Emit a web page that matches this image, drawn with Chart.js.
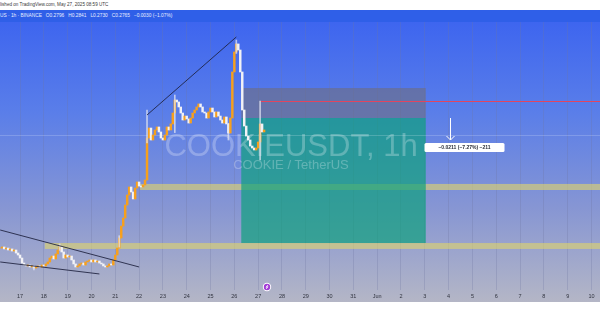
<!DOCTYPE html>
<html>
<head>
<meta charset="utf-8">
<script src="https://cdn.jsdelivr.net/npm/chart.js@4.4.1/dist/chart.umd.min.js"></script>
<style>
  html, body { margin: 0; padding: 0; background: #fff; }
  #wrap { position: relative; width: 600px; height: 315px; overflow: hidden; font-family: 'Liberation Sans', Arial, sans-serif; }
  #pub { position: absolute; top: 0; left: 0; height: 10px; line-height: 10px; font-size: 4.6px; color: #3a3a3a; white-space: nowrap; }
  #plot { position: absolute; top: 10px; left: 0; width: 600px; height: 292px;
    background: linear-gradient(to bottom, #3a62f0 0%, #5a7ee9 35%, #8796d3 68%, #b4b6c6 100%); }
  #legend { position: absolute; top: 10px; left: 0; width: 600px; height: 12px; line-height: 12px; background: #2f5fe8;
    color: #e8eeff; font-size: 4.8px; white-space: nowrap; }
  #legend span { margin-left: 4px; }
  canvas { position: absolute; top: 0; left: 0; }
</style>
</head>
<body>
<div id="wrap">
  <div id="pub">lished on TradingView.com, May 27, 2025 08:59 UTC</div>
  <div id="plot"><canvas id="chartData" width="600" height="292"></canvas></div>
  <div id="legend">US · 1h · BINANCE<span>O0.2796</span><span>H0.2841</span><span>L0.2730</span><span>C0.2765</span><span>−0.0030 (−1.07%)</span></div>
</div>
<script>
// x axis is hours since May 17 00:00 UTC
const dayLabels = ['17','18','19','20','21','22','23','24','25','26','27','28','29','30','31','Jun','2','3','4','5','6','7','8','9','10'];
const startHour = -20;
const stepHours = 2;

// closing prices, one every 2 hours
const closes = [
  0.1632,0.1642,0.1623,0.1632,0.1613,0.1623,0.1603,0.1613,0.1584,0.1565,
  0.1536,0.1488,0.1469,0.1460,0.1469,0.1450,0.1460,0.1440,0.1450,0.1460,
  0.1450,0.1469,0.1460,0.1479,0.1498,0.1536,0.1555,0.1527,0.1575,0.1613,
  0.1642,0.1594,0.1536,0.1565,0.1546,0.1555,0.1517,0.1479,0.1450,0.1460,
  0.1479,0.1488,0.1469,0.1498,0.1507,0.1517,0.1498,0.1517,0.1498,0.1507,
  0.1488,0.1479,0.1460,0.1450,0.1460,0.1479,0.1469,0.1517,0.1565,0.1632,
  0.1728,0.1843,0.1920,0.2045,0.2141,0.2218,0.2170,0.2103,0.2208,0.2266,
  0.2227,0.2218,0.2237,0.2285,0.2688,0.2784,0.2669,0.2717,0.2765,0.2794,
  0.2746,0.2688,0.2669,0.2717,0.2794,0.2765,0.2823,0.2928,0.3053,0.3034,
  0.2986,0.2928,0.2861,0.2899,0.2871,0.2832,0.2880,0.2928,0.2957,0.2986,
  0.3015,0.2986,0.2938,0.2928,0.2880,0.2938,0.2976,0.2938,0.2890,0.2938,
  0.2899,0.2861,0.2832,0.2890,0.2823,0.2736,0.2880,0.3322,0.3514,0.3591,
  0.3533,0.3322,0.2957,0.2803,0.2707,0.2669,0.2611,0.2592,0.2573,0.2592,
  0.2650,0.2823,0.2746,0.2765
];

// a few visible wicks: [hour, low, high]
const wicks = [
  [14, 0.1421, 0.1460], [40, 0.1610, 0.1671], [100, 0.1640, 0.1750],
  [128, 0.2640, 0.2957], [156, 0.2740, 0.3101], [210, 0.2669, 0.2830],
  [218, 0.3500, 0.3629], [242, 0.2477, 0.3043]
];

// drawings
const trendUp = [[128, 0.2909], [218, 0.3658]];
const trendDownHigh = [[-20, 0.1805], [120, 0.1450]];
const trendDownLow = [[-20, 0.1498], [80, 0.1383]];
const zoneUpper = { from: 121, top: 0.2247, bottom: 0.2189 };
const zoneLower = { from: 25, top: 0.1680, bottom: 0.1623 };
const position = { from: 223, to: 409, stop: 0.3168, entry: 0.2880, target: 0.1680 };
const redLevel = { from: 242, price: 0.3043 };
const lastPriceLine = 0.2717;
const measure = { hour: 433, from: 0.2880, to: 0.2669, text: '−0.0211 (−7.27%) −211' };

const hourMin = -20.2, hourMax = 584.6;
const priceMin = 0.1229, priceMax = 0.3917;

const candleData = closes.map((c, i) => {
  const open = i === 0 ? c : closes[i - 1];
  return { x: startHour + i * stepHours, y: [open, c] };
});
const candleColors = closes.map((c, i) => (i > 0 && c < closes[i - 1]) ? '#f2f2f6' : '#f7a01c');

const toPts = arr => arr.map(p => ({ x: p[0], y: p[1] }));

const drawings = {
  id: 'drawings',
  beforeDatasetsDraw(chart) {
    const { ctx, scales: { x, y }, chartArea } = chart;
    const px = v => x.getPixelForValue(v);
    const py = v => y.getPixelForValue(v);
    ctx.save();
    // zones
    ctx.fillStyle = 'rgba(222, 212, 110, 0.62)';
    [zoneUpper, zoneLower].forEach(z => {
      ctx.fillRect(px(z.from), py(z.top), chartArea.right - px(z.from), py(z.bottom) - py(z.top));
    });
    // position box
    ctx.fillStyle = 'rgba(110, 110, 130, 0.62)';
    ctx.fillRect(px(position.from), py(position.stop), px(position.to) - px(position.from), py(position.entry) - py(position.stop));
    ctx.fillStyle = 'rgba(10, 160, 122, 0.68)';
    ctx.fillRect(px(position.from), py(position.entry), px(position.to) - px(position.from), py(position.target) - py(position.entry));
    // watermark
    ctx.fillStyle = 'rgba(255,255,255,0.26)';
    ctx.textAlign = 'center';
    ctx.font = '31px "Liberation Sans", Arial, sans-serif';
    ctx.fillText('COOKIEUSDT, 1h', 291, 146);
    ctx.font = '13px "Liberation Sans", Arial, sans-serif';
    ctx.fillText('COOKIE / TetherUS', 291, 159);
    // last price line
    ctx.strokeStyle = 'rgba(255,255,255,0.18)';
    ctx.lineWidth = 1;
    ctx.beginPath();
    ctx.moveTo(chartArea.left, Math.round(py(lastPriceLine)) + 0.5);
    ctx.lineTo(chartArea.right, Math.round(py(lastPriceLine)) + 0.5);
    ctx.stroke();
    // red level
    ctx.strokeStyle = '#e2455f';
    ctx.beginPath();
    ctx.moveTo(px(redLevel.from), Math.round(py(redLevel.price)) + 0.5);
    ctx.lineTo(chartArea.right, Math.round(py(redLevel.price)) + 0.5);
    ctx.stroke();
    ctx.restore();
  },
  afterDatasetsDraw(chart) {
    const { ctx, scales: { x, y }, chartArea } = chart;
    const ax = Math.round(x.getPixelForValue(measure.hour)) + 0.5;
    const y1 = y.getPixelForValue(measure.from), y2 = y.getPixelForValue(measure.to);
    ctx.save();
    ctx.strokeStyle = '#ffffff';
    ctx.lineWidth = 1;
    ctx.beginPath();
    ctx.moveTo(ax, y1); ctx.lineTo(ax, y2);
    ctx.moveTo(ax - 4, y2 - 4); ctx.lineTo(ax, y2); ctx.lineTo(ax + 4, y2 - 4);
    ctx.stroke();
    // label
    ctx.fillStyle = '#ffffff';
    ctx.beginPath();
    ctx.roundRect(ax - 26, y2 + 3, 80, 9, 1.5);
    ctx.fill();
    ctx.fillStyle = '#2a2e39';
    ctx.font = 'bold 5px "Liberation Sans", Arial, sans-serif';
    ctx.textAlign = 'center';
    ctx.textBaseline = 'middle';
    ctx.fillText(measure.text, ax + 14, y2 + 7.5);
    // event icon
    const ix = 267, iy = chartArea.bottom - 3;
    ctx.fillStyle = '#ffffff';
    ctx.beginPath(); ctx.arc(ix, iy, 4.2, 0, Math.PI * 2); ctx.fill();
    ctx.fillStyle = '#a23bd6';
    ctx.beginPath(); ctx.arc(ix, iy, 3.2, 0, Math.PI * 2); ctx.fill();
    ctx.strokeStyle = '#ffffff';
    ctx.lineWidth = 0.8;
    ctx.beginPath(); ctx.moveTo(ix + 0.8, iy - 2); ctx.lineTo(ix - 1, iy + 0.3); ctx.lineTo(ix + 1, iy - 0.3); ctx.lineTo(ix - 0.8, iy + 2); ctx.stroke();
    ctx.restore();
  }
};

const lineStyle = { type: 'line', borderColor: 'rgba(28, 32, 60, 0.85)', borderWidth: 1, pointRadius: 0, fill: false };

new Chart(document.getElementById('chartData').getContext('2d'), {
  type: 'bar',
  data: {
    datasets: [
      { ...lineStyle, data: toPts(trendUp) },
      { ...lineStyle, data: toPts(trendDownHigh) },
      { ...lineStyle, data: toPts(trendDownLow) },
      { data: wicks.map(w => ({ x: w[0], y: [w[1], w[2]] })), backgroundColor: 'rgba(225,228,240,0.75)',
        barThickness: 1, grouped: false, borderWidth: 0 },
      { data: candleData, backgroundColor: candleColors, barThickness: 1.8, grouped: false, borderWidth: 0, borderSkipped: false }
    ]
  },
  options: {
    responsive: false,
    animation: false,
    events: [],
    layout: { padding: 0 },
    plugins: { legend: { display: false }, tooltip: { enabled: false } },
    scales: {
      x: {
        type: 'linear', min: hourMin, max: hourMax, offset: false,
        afterBuildTicks: scale => { scale.ticks = dayLabels.map((d, i) => ({ value: i * 24 })); },
        afterFit: scale => { scale.height = 12; },
        ticks: {
          callback: (v) => dayLabels[Math.round(v / 24)],
          color: '#30333f', font: { size: 5.5, family: 'Liberation Sans' }, padding: 3, maxRotation: 0, autoSkip: false
        },
        grid: { color: 'rgba(110, 120, 160, 0.28)', drawTicks: false, offset: false },
        border: { display: false }
      },
      y: {
        display: false, min: priceMin, max: priceMax
      }
    }
  },
  plugins: [drawings]
});
</script>
</body>
</html>
